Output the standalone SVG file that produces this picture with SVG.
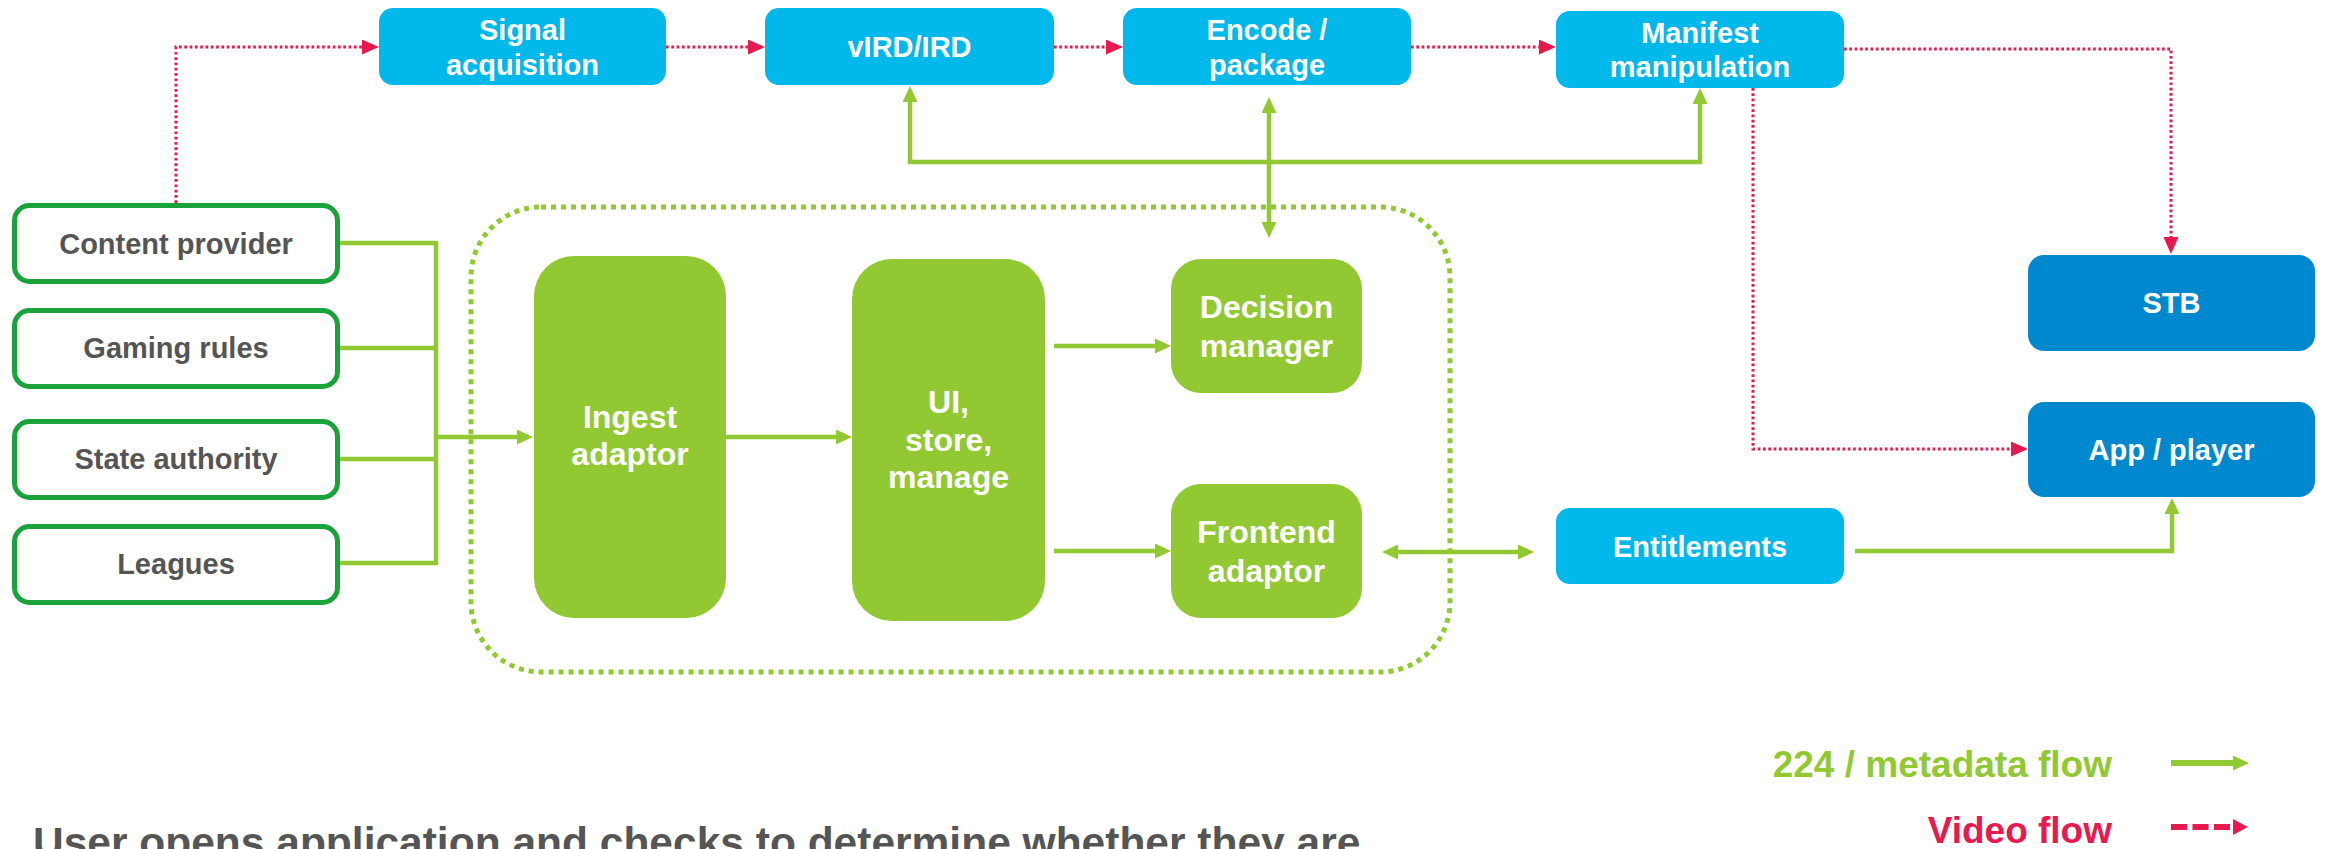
<svg xmlns="http://www.w3.org/2000/svg" width="2325" height="849" viewBox="0 0 2325 849">
<style>
text{font-family:"Liberation Sans",Arial,sans-serif;font-weight:bold;text-anchor:middle}
.lb{fill:#00B8EA}
.db{fill:#0088CE}
.gb{fill:#92C832}
.ob{fill:#FFFFFF;stroke:#1AA33A;stroke-width:5}
.wt{fill:#FFFFFF;font-size:29px}
.wg{fill:#FFFFFF;font-size:32px}
.gt{fill:#555555;font-size:29px}
.gl{fill:none;stroke:#92C832;stroke-width:4.5}
.rl{fill:none;stroke:#E8194F;stroke-width:3;stroke-dasharray:2.7 2.6}
</style>
<defs>
<marker id="ga" markerUnits="userSpaceOnUse" markerWidth="16" markerHeight="15" refX="0" refY="7.5" orient="auto-start-reverse"><path d="M0,0 L16,7.5 L0,15 Z" fill="#92C832"/></marker>
<marker id="ra" markerUnits="userSpaceOnUse" markerWidth="17" markerHeight="15" refX="0" refY="7.5" orient="auto"><path d="M0,0 L17,7.5 L0,15 Z" fill="#E8194F"/></marker>
<marker id="rl" markerUnits="userSpaceOnUse" markerWidth="15" markerHeight="16" refX="0" refY="8" orient="auto"><path d="M0,0 L15,8 L0,16 Z" fill="#E8194F"/></marker>
</defs>

<g id="container">
<rect x="471" y="207" width="979" height="465" rx="70" fill="none" stroke="#92C832" stroke-width="5" stroke-dasharray="5 5"/>
</g>

<g id="connectors">
<path class="rl" d="M176,203 V47 H362" marker-end="url(#ra)"/>
<path class="rl" d="M666,47 H748" marker-end="url(#ra)"/>
<path class="rl" d="M1054,47 H1106" marker-end="url(#ra)"/>
<path class="rl" d="M1411,47 H1539" marker-end="url(#ra)"/>
<path class="rl" d="M1844,49 H2171 V237" marker-end="url(#ra)"/>
<path class="rl" d="M1753,88 V449 H2011" marker-end="url(#ra)"/>

<path class="gl" d="M910,102 V162 H1700 V104" marker-start="url(#ga)" marker-end="url(#ga)"/>
<path class="gl" d="M1269,113 V222" marker-start="url(#ga)" marker-end="url(#ga)"/>
<path class="gl" d="M340,243 H436 M340,348 H436 M340,459 H436 M340,563 H436 M436,241 V565"/>
<path class="gl" d="M436,437 H517" marker-end="url(#ga)"/>
<path class="gl" d="M726,437 H836" marker-end="url(#ga)"/>
<path class="gl" d="M1054,346 H1155" marker-end="url(#ga)"/>
<path class="gl" d="M1054,551 H1155" marker-end="url(#ga)"/>
<path class="gl" d="M1398,552 H1518" marker-start="url(#ga)" marker-end="url(#ga)"/>
<path class="gl" d="M1855,551 H2172 V514" marker-end="url(#ga)"/>
</g>

<g id="signal-acquisition">
<rect class="lb" x="379" y="8" width="287" height="77" rx="14"/>
<text class="wt" x="522.5" y="40">Signal</text>
<text class="wt" x="522.5" y="75">acquisition</text>
</g>
<g id="vird">
<rect class="lb" x="765" y="8" width="289" height="77" rx="14"/>
<text class="wt" x="909.5" y="57">vIRD/IRD</text>
</g>
<g id="encode">
<rect class="lb" x="1123" y="8" width="288" height="77" rx="14"/>
<text class="wt" x="1267" y="40">Encode /</text>
<text class="wt" x="1267" y="75">package</text>
</g>
<g id="manifest">
<rect class="lb" x="1556" y="11" width="288" height="77" rx="14"/>
<text class="wt" x="1700" y="43">Manifest</text>
<text class="wt" x="1700" y="77">manipulation</text>
</g>

<g id="content-provider">
<rect class="ob" x="14.5" y="205.5" width="323" height="76" rx="15"/>
<text class="gt" x="176" y="254">Content provider</text>
</g>
<g id="gaming-rules">
<rect class="ob" x="14.5" y="310.5" width="323" height="76" rx="15"/>
<text class="gt" x="176" y="358">Gaming rules</text>
</g>
<g id="state-authority">
<rect class="ob" x="14.5" y="421.5" width="323" height="76" rx="15"/>
<text class="gt" x="176" y="469">State authority</text>
</g>
<g id="leagues">
<rect class="ob" x="14.5" y="526.5" width="323" height="76" rx="15"/>
<text class="gt" x="176" y="574">Leagues</text>
</g>

<g id="ingest-adaptor">
<rect class="gb" x="534" y="256" width="192" height="362" rx="40"/>
<text class="wg" x="630" y="428">Ingest</text>
<text class="wg" x="630" y="465">adaptor</text>
</g>
<g id="ui-store-manage">
<rect class="gb" x="852" y="259" width="193" height="362" rx="40"/>
<text class="wg" x="948.5" y="413">UI,</text>
<text class="wg" x="948.5" y="451">store,</text>
<text class="wg" x="948.5" y="488">manage</text>
</g>
<g id="decision-manager">
<rect class="gb" x="1171" y="259" width="191" height="134" rx="30"/>
<text class="wg" x="1266.5" y="318">Decision</text>
<text class="wg" x="1266.5" y="357">manager</text>
</g>
<g id="frontend-adaptor">
<rect class="gb" x="1171" y="484" width="191" height="134" rx="30"/>
<text class="wg" x="1266.5" y="543">Frontend</text>
<text class="wg" x="1266.5" y="582">adaptor</text>
</g>

<g id="entitlements">
<rect class="lb" x="1556" y="508" width="288" height="76" rx="14"/>
<text class="wt" x="1700" y="557">Entitlements</text>
</g>
<g id="stb">
<rect class="db" x="2028" y="255" width="287" height="96" rx="16"/>
<text class="wt" x="2171.5" y="313">STB</text>
</g>
<g id="app-player">
<rect class="db" x="2028" y="402" width="287" height="95" rx="16"/>
<text class="wt" x="2171.5" y="460">App / player</text>
</g>

<g id="legend">
<text x="2112" y="777" style="text-anchor:end;font-size:37px;fill:#92C832">224 / metadata flow</text>
<path d="M2171,763 H2233" fill="none" stroke="#92C832" stroke-width="6" marker-end="url(#ga)"/>
<text x="2112" y="843" style="text-anchor:end;font-size:37px;fill:#E8194F">Video flow</text>
<path d="M2171,827 H2233" fill="none" stroke="#E8194F" stroke-width="6" stroke-dasharray="16 5.5" marker-end="url(#rl)"/>
</g>

<text x="33" y="857" style="text-anchor:start;font-size:42.5px;fill:#555555">User opens application and checks to determine whether they are</text>
</svg>
